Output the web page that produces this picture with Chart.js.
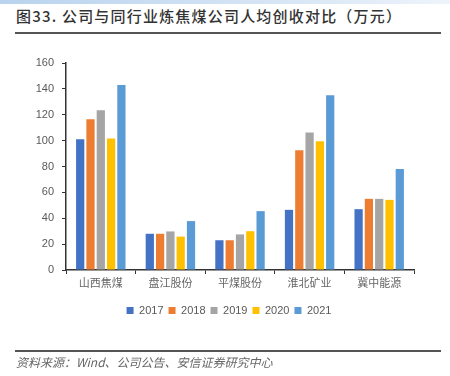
<!DOCTYPE html>
<html>
<head>
<meta charset="utf-8">
<script src="https://cdn.jsdelivr.net/npm/chart.js@4"></script>
<style>
  html, body { margin: 0; padding: 0; background: #fff; }
  #wrap { position: relative; width: 450px; height: 376px; overflow: hidden; }
  #band { position: absolute; left: 0; top: 0; width: 450px; height: 4px;
          background: linear-gradient(to right, #b9d3ee, #dbe8f6 70%, #eef4fb); }
  #title { position: absolute; left: 16px; top: 5px; font-family: "Noto Sans CJK SC", sans-serif;
           font-size: 15px; color: #333; letter-spacing: 1.2px; white-space: nowrap; font-weight: 500; }
  #line1 { position: absolute; left: 15px; top: 32px; width: 426px; height: 2px; background: #555; }
  #line2 { position: absolute; left: 15px; top: 350px; width: 426px; height: 2px; background: #555; }
  #source { position: absolute; left: 16px; top: 353px; font-family: "Noto Sans CJK SC", sans-serif;
            font-size: 12px; font-style: italic; color: #666; white-space: nowrap; }
  #c { position: absolute; left: 0; top: 0; }
</style>
</head>
<body>
<div id="wrap">
  <div id="band"></div>
  <div id="title">图33. 公司与同行业炼焦煤公司人均创收对比（万元）</div>
  <div id="line1"></div>
  <canvas id="c" width="450" height="376"></canvas>
  <div id="line2"></div>
  <div id="source">资料来源：Wind、公司公告、安信证券研究中心</div>
</div>
<script>
// categories and values (万元)
const companies = ['山西焦煤', '盘江股份', '平煤股份', '淮北矿业', '冀中能源'];
const years = ['2017', '2018', '2019', '2020', '2021'];
const v2017 = [101, 28, 23, 46.5, 47];
const v2018 = [116.5, 28, 23, 92.5, 55];
const v2019 = [123.5, 29.8, 27.5, 106.3, 55];
const v2020 = [101.7, 25.8, 30, 99.6, 54.2];
const v2021 = [143, 37.8, 45.5, 135, 78];
const yTicks = [0, 20, 40, 60, 80, 100, 120, 140, 160];

const colors = ['#4472C4', '#ED7D31', '#A5A5A5', '#FFC000', '#5B9BD5'];
const series = [v2017, v2018, v2019, v2020, v2021];

const ctx = document.getElementById('c').getContext('2d');
new Chart(ctx, {
  type: 'bar',
  data: {
    labels: companies,
    datasets: series.map((s, i) => ({
      label: years[i],
      data: s,
      backgroundColor: colors[i],
      categoryPercentage: 0.74,
      barPercentage: 0.8
    }))
  },
  options: {
    responsive: false,
    animation: false,
    layout: { padding: { top: 63, left: 22, right: 14, bottom: 50 } },
    plugins: {
      tooltip: { enabled: false },
      legend: {
        position: 'bottom',
        labels: {
          boxWidth: 7, boxHeight: 7,
          padding: 5,
          color: '#595959',
          font: { family: 'Liberation Sans, Arial, sans-serif', size: 11 }
        }
      }
    },
    scales: {
      x: {
        grid: { offset: true, drawOnChartArea: false, drawTicks: true, tickLength: 4, color: '#333' },
        border: { color: '#333', width: 1.5 },
        ticks: { color: '#666', padding: 2,
                 font: { family: 'Noto Sans CJK SC, sans-serif', size: 11 } },
        afterFit: s => { s.height = 30; }
      },
      y: {
        min: 0, max: 160,
        afterBuildTicks: s => { s.ticks = yTicks.map(v => ({ value: v })); },
        grid: { drawOnChartArea: false, drawTicks: true, tickLength: 4, color: '#333' },
        border: { color: '#333', width: 1.5 },
        ticks: { color: '#595959', padding: 8,
                 font: { family: 'Liberation Sans, Arial, sans-serif', size: 11 } },
        afterFit: s => { s.width = 44; }
      },
      // empty right-hand spacer so the legend centres like the original
      yRight: {
        position: 'right',
        min: 0, max: 160,
        grid: { display: false },
        border: { display: false },
        ticks: { display: false },
        afterFit: s => { s.width = 22; }
      }
    }
  }
});
</script>
</body>
</html>
